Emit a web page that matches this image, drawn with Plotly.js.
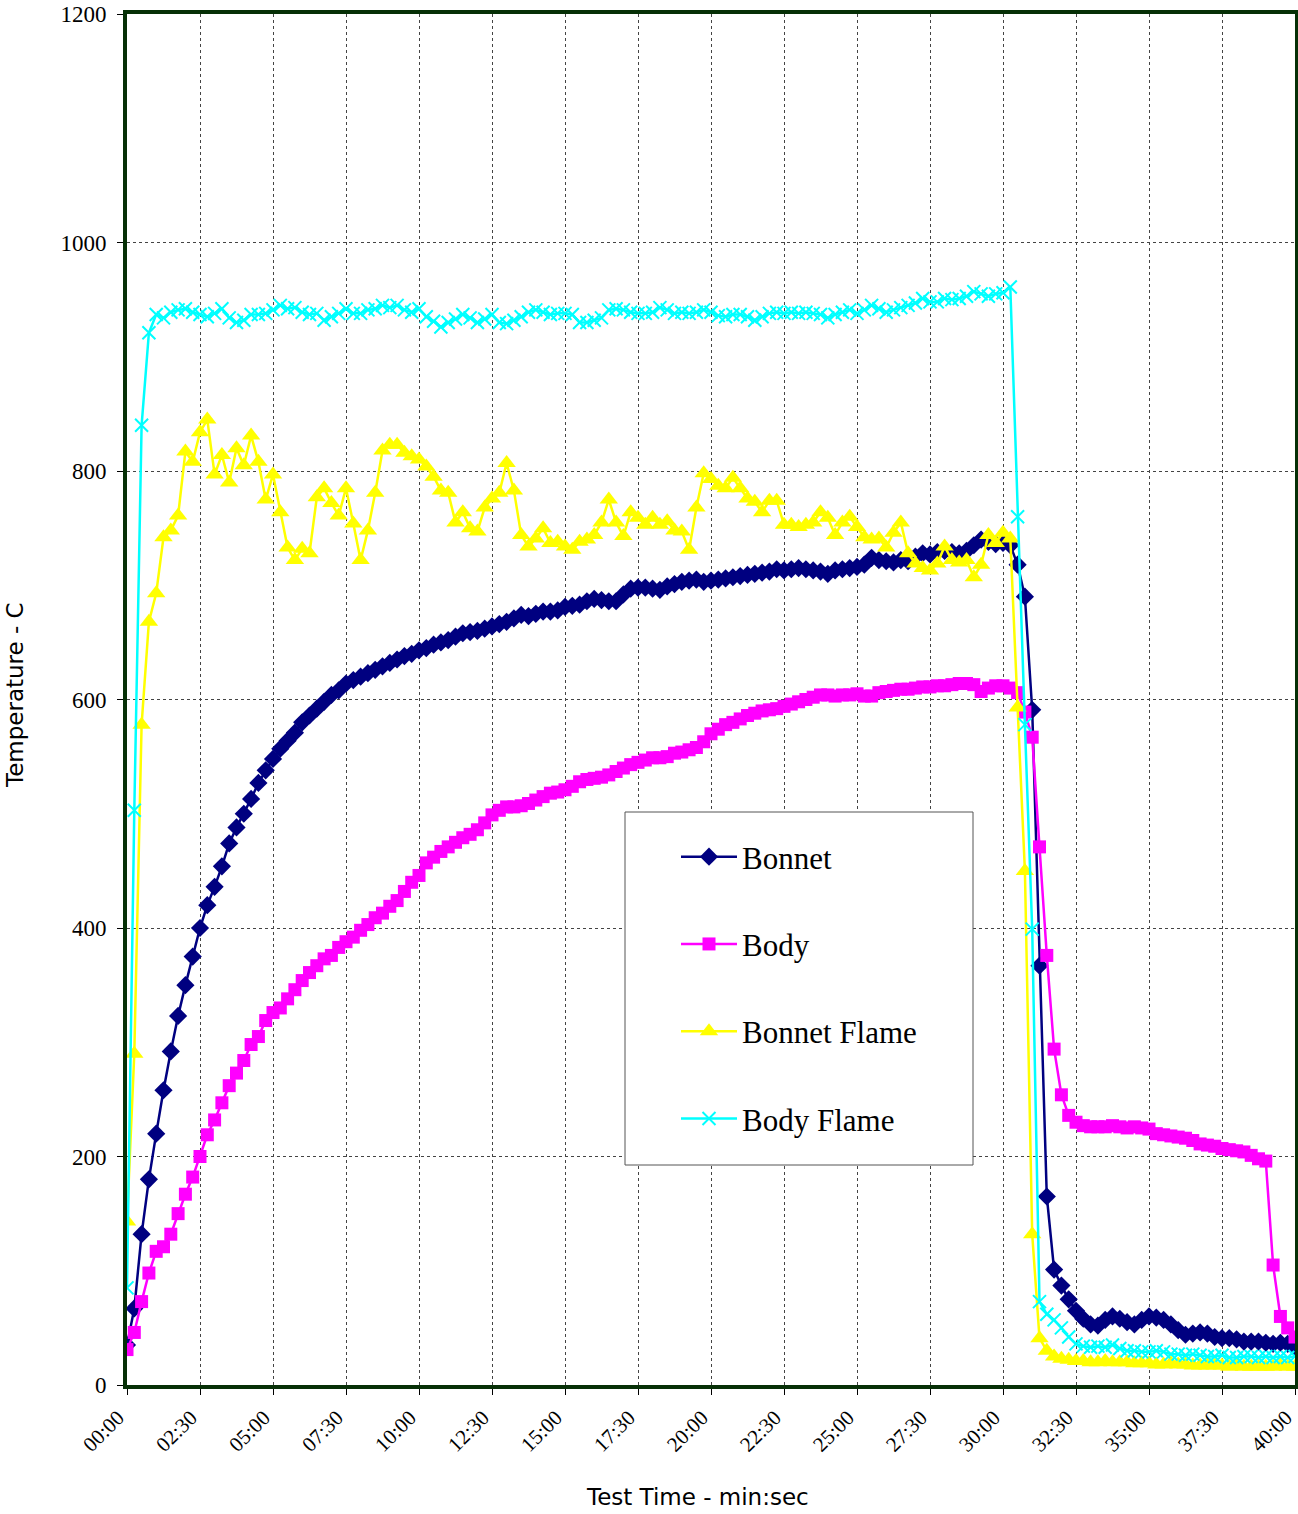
<!DOCTYPE html>
<html>
<head>
<meta charset="utf-8">
<script src="https://cdn.plot.ly/plotly-3.0.1.min.js"></script>
<style>html,body{margin:0;padding:0;background:#fff;}#chart{width:1298px;height:1514px;}</style>
</head>
<body>
<div id="chart"></div>
<script>
// Test time in seconds (one reading every 15 s)
const timeSec = [0,15,30,45,60,75,90,105,120,135,150,165,180,195,210,225,240,255,270,285,300,315,330,345,360,375,390,405,420,435,450,465,480,495,510,525,540,555,570,585,600,615,630,645,660,675,690,705,720,735,750,765,780,795,810,825,840,855,870,885,900,915,930,945,960,975,990,1005,1020,1035,1050,1065,1080,1095,1110,1125,1140,1155,1170,1185,1200,1215,1230,1245,1260,1275,1290,1305,1320,1335,1350,1365,1380,1395,1410,1425,1440,1455,1470,1485,1500,1515,1530,1545,1560,1575,1590,1605,1620,1635,1650,1665,1680,1695,1710,1725,1740,1755,1770,1785,1800,1815,1830,1845,1860,1875,1890,1905,1920,1935,1950,1965,1980,1995,2010,2025,2040,2055,2070,2085,2100,2115,2130,2145,2160,2175,2190,2205,2220,2235,2250,2265,2280,2295,2310,2325,2340,2355,2370,2385,2400];

const bonnet = [35,67,132,180,220,258,292,323,350,375,
400,420,436,454,474,488,500,513,527,538,
548,557,564,571,580,586,592,598,604,608,
614,617,620,623,626,629,632,635,638,640,
643,645,648,650,652,655,658,659,660,662,
664,666,668,671,674,673,675,677,677,678,
681,682,683,686,688,687,686,686,692,697,
698,698,697,696,699,701,703,704,705,703,
704,705,706,707,708,709,710,711,712,714,
713,714,715,714,713,712,710,713,714,715,
716,718,724,722,721,720,722,721,725,728,
727,729,730,729,728,730,735,740,738,736,
737,735,718,690,591,367,165,101,87,75,
65,58,53,52,57,60,58,55,53,57,
60,59,57,53,48,44,45,46,45,42,
41,41,40,38,38,38,37,36,37,36,
33];

const body = [31,46,73,98,117,121,132,150,167,182,
200,219,232,247,262,273,284,298,305,319,
326,330,338,346,354,361,367,373,376,383,
388,392,398,403,409,413,419,424,432,440,
446,457,462,467,471,475,479,482,486,492,
499,503,506,506,507,509,512,515,518,519,
521,524,528,530,531,532,534,537,540,543,
545,547,549,549,550,553,554,556,558,563,
570,574,578,580,583,586,588,590,591,592,
594,596,598,600,602,604,604,603,604,604,
605,603,603,606,607,608,609,609,610,611,
611,612,612,613,614,614,613,607,610,612,
612,610,606,589,567,471,376,294,254,236,
230,227,226,226,226,227,226,225,226,225,
224,220,219,218,217,216,214,211,210,209,
207,206,205,204,201,198,196,105,60,50,
42];

const bonnetFlame = [143,290,578,668,693,742,748,761,817,808,
834,845,797,814,790,820,805,831,808,775,
797,764,733,722,732,728,777,785,772,761,
785,754,722,748,781,818,823,823,816,813,
810,804,795,783,781,755,764,750,747,768,
776,781,807,783,744,734,741,750,737,738,
734,731,738,740,744,755,775,755,743,764,
759,753,759,753,756,748,747,731,768,798,
793,787,785,794,785,776,773,764,774,774,
753,753,751,753,755,764,759,744,755,760,
751,742,740,741,733,746,755,728,719,715,
713,719,734,722,720,722,707,718,744,737,
746,741,593,450,132,41,30,25,23,22,
21,21,20,20,21,20,20,20,19,19,
19,18,18,19,18,18,17,17,17,17,
17,16,17,16,16,16,16,16,17,16,
16];

const bodyFlame = [85,503,840,921,937,934,939,941,942,939,
937,935,938,942,934,930,932,937,937,938,
941,945,942,943,939,937,938,932,935,938,
942,938,938,941,942,945,943,945,941,939,
942,935,931,926,930,933,937,934,930,933,
937,930,929,932,935,939,941,939,937,938,
938,937,930,930,932,934,941,942,941,939,
938,938,939,943,941,938,939,938,939,941,
939,936,935,937,937,935,932,935,938,939,
938,939,938,939,938,937,934,937,939,941,
938,941,945,942,939,941,943,945,947,951,
948,948,951,950,951,953,957,955,953,955,
956,961,760,578,399,73,62,57,50,42,
36,34,33,34,33,35,32,30,30,29,
29,30,29,27,27,26,27,26,25,25,
26,24,24,25,25,24,25,24,25,24,
25];

const xTickVals = [0,150,300,450,600,750,900,1050,1200,1350,1500,1650,1800,1950,2100,2250,2400];
const xTickText = ["00:00","02:30","05:00","07:30","10:00","12:30","15:00","17:30","20:00","22:30","25:00","27:30","30:00","32:30","35:00","37:30","40:00"];
const yTickVals = [0,200,400,600,800,1000,1200];

const serif = "Liberation Serif, Times New Roman, serif";
const sans = "DejaVu Sans, Arial, sans-serif";

const traces = [
  {name:"Bonnet", x:timeSec, y:bonnet, type:"scatter", mode:"lines+markers", legendgroup:"a",
   line:{color:"#000080", width:2.5}, marker:{symbol:"diamond", size:14, color:"#000080"}},
  {name:"Body", x:timeSec, y:body, type:"scatter", mode:"lines+markers", legendgroup:"b",
   line:{color:"#FF00FF", width:2.5}, marker:{symbol:"square", size:13, color:"#FF00FF"}},
  {name:"Bonnet Flame", x:timeSec, y:bonnetFlame, type:"scatter", mode:"lines+markers", legendgroup:"c",
   line:{color:"#FFFF00", width:2.5}, marker:{symbol:"triangle-up", size:16, color:"#FFFF00"}},
  {name:"Body Flame", x:timeSec, y:bodyFlame, type:"scatter", mode:"lines+markers", legendgroup:"d",
   line:{color:"#00FFFF", width:2.5}, marker:{symbol:"x-thin-open", size:13, color:"#00FFFF", line:{width:2, color:"#00FFFF"}}}
];

const W = 1298, H = 1514;
const L = 127, R = 3, T = 14, B = 129;
const pw = W - L - R, ph = H - T - B;
const px = v => (v - L) / pw;
const py = v => (H - B - v) / ph;

const layout = {
  width: W, height: H,
  margin: {l: L, r: R, t: T, b: B, pad: 0},
  paper_bgcolor: "#ffffff", plot_bgcolor: "#ffffff",
  showlegend: true,
  xaxis: {
    range: [0, 2400], tickvals: xTickVals, ticktext: xTickText, tickangle: -45,
    showgrid: true, gridcolor: "#444444", griddash: "dot", gridwidth: 1,
    showline: true, linecolor: "#063006", linewidth: 4, mirror: true,
    ticks: "outside", ticklen: 6, tickcolor: "#000", tickwidth: 1,
    tickfont: {family: serif, size: 21, color: "#000"},
    ticklabeloverflow: "allow", ticklabelstandoff: 2, ticklabelshift: -9,
    zeroline: false, automargin: false
  },
  yaxis: {
    range: [0, 1200], tickvals: yTickVals,
    showgrid: true, gridcolor: "#444444", griddash: "dot", gridwidth: 1,
    showline: true, linecolor: "#063006", linewidth: 4, mirror: true,
    ticks: "outside", ticklen: 6, tickcolor: "#000", tickwidth: 1,
    tickfont: {family: serif, size: 23, color: "#000"},
    ticklabelstandoff: 6,
    zeroline: false, automargin: false
  },
  annotations: [
    {text: "Test Time - min:sec", xref: "paper", yref: "paper", x: px(697), y: py(1497),
     xanchor: "center", yanchor: "middle", showarrow: false,
     font: {family: sans, size: 23, color: "#000"}},
    {text: "Temperature - C", xref: "paper", yref: "paper", x: px(15), y: py(695),
     xanchor: "center", yanchor: "middle", showarrow: false, textangle: -90,
     font: {family: sans, size: 23, color: "#000"}}
  ],
  shapes: [{
    type: "rect", xref: "paper", yref: "paper", layer: "above",
    x0: px(625), x1: px(973), y0: py(1165), y1: py(812),
    line: {color: "#555555", width: 1}, fillcolor: "#ffffff"
  }],
  legend: {
    x: px(676), y: py(830), xanchor: "left", yanchor: "top",
    bgcolor: "rgba(0,0,0,0)", borderwidth: 0,
    font: {family: serif, size: 31, color: "#000"},
    itemwidth: 56, tracegroupgap: 44, itemclick: false
  }
};

Plotly.newPlot("chart", traces, layout, {displayModeBar: false, staticPlot: true});
</script>
</body>
</html>
